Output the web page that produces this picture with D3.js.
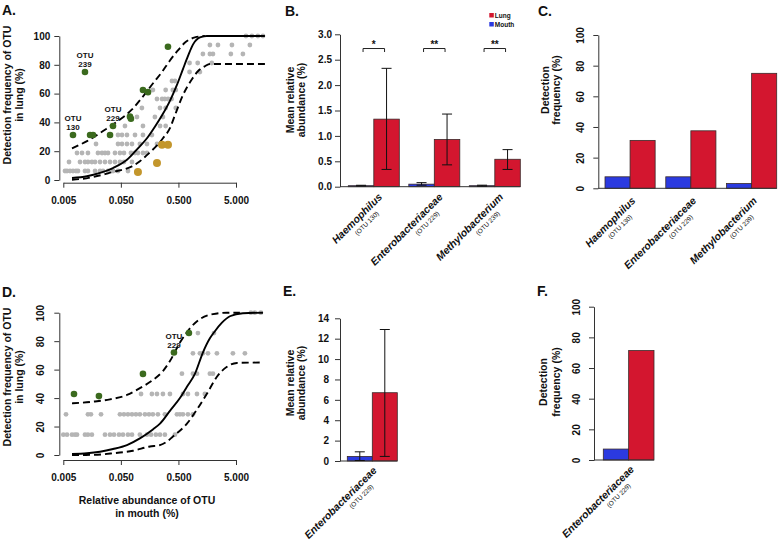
<!DOCTYPE html>
<html>
<head>
<meta charset="utf-8">
<script src="https://d3js.org/d3.v7.min.js"></script>
<style>
body { margin: 0; background: #fff; }
svg text { font-family: "Liberation Sans", Arial, sans-serif; font-weight: bold; fill: #111; }
</style>
</head>
<body>
<script>
// ---------- data ----------
var xTicks = [0.005, 0.05, 0.5, 5];
var freqTicks = [0, 20, 40, 60, 80, 100];

// panel A : grey OTUs, one row per detection level [level, abundances]
var aGreyRows = [
  [100, [7.44, 9.44, 12.0, 14.7]],
  [93.75, [1.76, 2.43, 4.25, 8.71]],
  [87.5, [1.33, 1.76, 1.99, 4.07, 6.59]],
  [81.25, [0.78, 1.08, 1.9]],
  [75, [0.78, 1.18]],
  [68.75, [0.386, 0.435]],
  [62.5, [0.180, 0.30, 0.40, 0.45]],
  [56.25, [0.212, 0.26, 0.29, 0.33, 0.38]],
  [50, [0.116, 0.239, 0.30, 0.45]],
  [43.75, [0.0952, 0.195, 0.269]],
  [37.5, [0.0589, 0.121, 0.24, 0.30]],
  [31.25, [0.0446, 0.0523, 0.0638, 0.088, 0.121, 0.173]],
  [25, [0.0185, 0.0446, 0.0523, 0.0638, 0.078, 0.107, 0.142, 0.212, 0.239]],
  [18.75, [0.00865, 0.01057, 0.0134, 0.0200, 0.0235, 0.0265, 0.0299, 0.0395, 0.0482, 0.0566, 0.0748, 0.088, 0.099, 0.121, 0.142]],
  [12.5, [0.00628, 0.00975, 0.0119, 0.0134, 0.0157, 0.0178, 0.0217, 0.0265, 0.0324, 0.0395, 0.0482, 0.0566, 0.078]],
  [6.25, [0.00535, 0.0058, 0.00654, 0.00737, 0.00831, 0.009, 0.0119, 0.0134, 0.0178, 0.0217, 0.0245, 0.0299, 0.0365, 0.0446, 0.0664]]
];
var aGreenX = [0.00737, 0.0146, 0.0164, 0.0324, 0.0365, 0.0119, 0.072, 0.0748, 0.121, 0.148, 0.329];
var aGreenY = [31.25, 31.25, 31.25, 31.25, 37.5, 75, 44, 42.5, 62.5, 61, 92.5];
var aGoldX = [0.099, 0.212, 0.259, 0.329];
var aGoldY = [5.6, 11.8, 24.5, 24.5];
var aFitX = [0.00708, 0.0129, 0.0217, 0.0365, 0.0638, 0.099, 0.142, 0.195, 0.269, 0.356, 0.471, 0.599, 0.731, 0.893, 1.18, 1.56, 15.9];
var aFitY = [1.4, 2.6, 4.9, 8.3, 14, 22, 29, 37, 46, 55, 66, 77, 86, 94, 99, 100, 100];
var aUpX = [0.00708, 0.0129, 0.0245, 0.0446, 0.078, 0.121, 0.180, 0.259, 0.356, 0.490, 0.675, 0.966, 1.44];
var aUpY = [22, 27, 34, 41, 49, 58, 67, 75, 83, 90, 96, 99, 100];
var aLowX = [0.00708, 0.0110, 0.0164, 0.0245, 0.0365, 0.0544, 0.078, 0.107, 0.148, 0.212, 0.269, 0.356, 0.435, 0.599, 0.858, 1.09, 1.44, 1.76, 15.9];
var aLowY = [0.2, 0.9, 2.1, 3.7, 5.6, 7.2, 9.5, 13, 18, 24, 29, 36, 45, 59, 70, 75.5, 79, 80.6, 80.6];
var aLabels = [["130", 0.00737, 31.25], ["229", 0.0365, 37.5], ["239", 0.0119, 75]];

// panel D
var dGreyRows = [
  [100, [9.08, 10.6, 13.5]],
  [85.71, [1.09, 2.07]],
  [71.43, [0.893, 1.18, 1.33, 1.63, 2.33, 4.42, 7.14]],
  [57.14, [0.575, 0.893, 1.05, 1.76, 1.99]],
  [42.86, [0.112, 0.173, 0.212, 0.269, 0.356, 0.599, 0.731, 1.05, 1.44]],
  [28.57, [0.00557, 0.0134, 0.0151, 0.0226, 0.0482, 0.0566, 0.0664, 0.078, 0.0914, 0.107, 0.131, 0.154, 0.180, 0.220, 0.291, 0.471, 0.531, 0.599, 0.731, 0.893]],
  [14.29, [0.005, 0.0058, 0.00708, 0.00798, 0.00865, 0.0119, 0.0134, 0.0157, 0.0265, 0.0324, 0.0380, 0.0464, 0.0544, 0.0664, 0.078, 0.107, 0.142, 0.167, 0.203, 0.239, 0.291, 0.435]]
];
var dGreenX = [0.00767, 0.0208, 0.121, 0.418, 0.761];
var dGreenY = [42.9, 41.4, 57, 72, 85.7];
var dFitX = [0.00708, 0.0129, 0.0217, 0.0365, 0.0638, 0.107, 0.180, 0.239, 0.356, 0.531, 0.703, 0.966, 1.33, 1.76, 2.15, 2.85, 3.92, 6.59, 14.7];
var dFitY = [0.7, 1.2, 2.3, 4.2, 7, 11.7, 18, 22, 31, 40, 48, 57, 72, 82, 87, 93, 97.5, 99.6, 100];
var dUpX = [0.00708, 0.0166, 0.0324, 0.0638, 0.107, 0.180, 0.269, 0.356, 0.531, 0.792, 1.18, 1.99, 3.48, 5.84];
var dUpY = [36.3, 37.5, 39.1, 42.2, 47, 52.7, 59, 66, 79, 89, 95.5, 99, 100, 100];
var dLowX = [0.00708, 0.0166, 0.0365, 0.0811, 0.160, 0.239, 0.316, 0.401, 0.703, 1.05, 1.56, 2.33, 3.48, 5.19, 14.7];
var dLowY = [0, 0.1, 1.2, 3, 6, 7, 9.4, 13, 22, 32, 43, 55, 62, 64.7, 65];
var dLabels = [["229", 0.418, 72]];

// panels B / C
var taxa = ["Haemophilus", "Enterobacteriaceae", "Methylobacterium"];
var otus = ["(OTU 130)", "(OTU 229)", "(OTU 239)"];
var bMouth = [0.02, 0.05, 0.02];
var bMouthLo = [0.015, 0.03, 0.012];
var bMouthHi = [0.028, 0.08, 0.03];
var bLung = [1.33, 0.93, 0.54];
var bLungLo = [0.34, 0.43, 0.34];
var bLungHi = [2.33, 1.43, 0.73];
var bSig = ["*", "**", "**"];
var bTicks = [0, 0.5, 1, 1.5, 2, 2.5, 3];
var cMouth = [7.5, 7.5, 3.1];
var cLung = [31.25, 37.5, 75];

// panels E / F
var eTaxa = ["Enterobacteriaceae"];
var eOtus = ["(OTU 229)"];
var eMouth = [0.45], eMouthLo = [0.05], eMouthHi = [0.9];
var eLung = [6.7], eLungLo = [0.45], eLungHi = [12.9];
var eTicks = [0, 2, 4, 6, 8, 10, 12, 14];
var fMouth = [7.14];
var fLung = [71.4];

// ---------- drawing ----------
var BLUE = '#2b3ae0', RED = '#d3162f', GREY = '#b5b5b5', GREEN = '#3b6a1e', GOLD = '#c3962c';

var svg = d3.select('body').append('svg')
    .attr('width', 778)
    .attr('height', 540);

function axisStyle(g) {
  g.select('.domain').attr('stroke', '#333');
  g.selectAll('.tick line').attr('stroke', '#333');
  g.selectAll('text').attr('fill', '#111').style('font-size', '10px').style('font-weight', 'bold');
}

function rotateTicks(g, off) {
  g.selectAll('.tick text')
    .attr('x', 0).attr('dy', 0)
    .attr('text-anchor', 'middle')
    .attr('transform', 'translate(' + (-off) + ',0) rotate(-90)');
}

function panelTitle(t, x, y) {
  svg.append('text').attr('x', x).attr('y', y).style('font-size', '14px').text(t);
}

function yTitle(lines, xs, cy) {
  lines.forEach(function(t, i) {
    svg.append('text')
      .attr('transform', 'translate(' + xs[i] + ',' + cy + ') rotate(-90)')
      .attr('text-anchor', 'middle')
      .style('font-size', '10.5px')
      .text(t);
  });
}

function scatter(o) {
  var x = d3.scaleLog().domain([0.005, 5]).range([63.3, 236]);
  var y = d3.scaleLinear().domain([0, 100]).range([o.yBottom, o.yTop]);

  var gx = svg.append('g').attr('transform', 'translate(0,' + o.axisY + ')')
    .call(d3.axisBottom(x).tickValues(xTicks).tickFormat(d3.format('.3f')).tickSize(5).tickSizeOuter(0).tickPadding(9));
  axisStyle(gx);
  var gy = svg.append('g').attr('transform', 'translate(59.3,0)')
    .call(d3.axisLeft(y).tickValues(freqTicks).tickSize(5).tickSizeOuter(0).tickPadding(4));
  axisStyle(gy);
  if (o.rotate) rotateTicks(gy, 15.7);

  var pts = [];
  o.grey.forEach(function(r) {
    r[1].forEach(function(v) { pts.push([v, r[0]]); });
  });
  svg.append('g').selectAll('circle').data(pts).join('circle')
    .attr('cx', function(d) { return x(d[0]); })
    .attr('cy', function(d) { return y(d[1]); })
    .attr('r', 2.4)
    .attr('fill', GREY);

  var line = d3.line()
    .x(function(d) { return x(d[0]); })
    .y(function(d) { return y(d[1]); })
    .curve(d3.curveMonotoneX);
  [[o.fit, null], [o.up, '7,4'], [o.low, '7,4']].forEach(function(c) {
    svg.append('path').datum(c[0])
      .attr('d', line)
      .attr('fill', 'none')
      .attr('stroke', '#000')
      .attr('stroke-width', 1.9)
      .attr('stroke-dasharray', c[1]);
  });

  svg.append('g').selectAll('circle').data(o.green).join('circle')
    .attr('cx', function(d) { return x(d[0]); })
    .attr('cy', function(d) { return y(d[1]); })
    .attr('r', 3.3)
    .attr('fill', GREEN);
  if (o.gold) {
    svg.append('g').selectAll('circle').data(o.gold).join('circle')
      .attr('cx', function(d) { return x(d[0]); })
      .attr('cy', function(d) { return y(d[1]); })
      .attr('r', 4)
      .attr('fill', GOLD);
  }

  o.labels.forEach(function(l) {
    var px = x(l[1]), py = y(l[2]);
    svg.append('text').attr('x', px).attr('y', py - 14).attr('text-anchor', 'middle').style('font-size', '8px').text('OTU');
    svg.append('text').attr('x', px).attr('y', py - 5).attr('text-anchor', 'middle').style('font-size', '8px').text(l[0]);
  });
}

function barPanel(o) {
  var y = d3.scaleLinear().domain([0, o.max]).range([o.y0, o.yTop]);
  var x0 = d3.scaleBand().domain(o.cats).range(o.range).paddingInner(o.padIn);
  var x1 = d3.scaleBand().domain(['Mouth', 'Lung']).range([0, x0.bandwidth()]);

  var gy = svg.append('g').attr('transform', 'translate(' + o.axisX + ',0)')
    .call(d3.axisLeft(y).tickValues(o.ticks).tickFormat(o.fmt).tickSize(5).tickSizeOuter(0).tickPadding(o.pad));
  axisStyle(gy);
  if (o.rotate) rotateTicks(gy, o.rotOff);

  var rows = o.cats.map(function(c, i) {
    return { cat: c, otu: o.otus[i], vals: [['Mouth', o.mouth[i]], ['Lung', o.lung[i]]], i: i };
  });

  var g = svg.append('g').selectAll('g').data(rows).join('g')
    .attr('transform', function(d) { return 'translate(' + x0(d.cat) + ',0)'; });
  g.selectAll('rect').data(function(d) { return d.vals; }).join('rect')
    .attr('x', function(d) { return x1(d[0]); })
    .attr('y', function(d) { return y(d[1]); })
    .attr('width', x1.bandwidth())
    .attr('height', function(d) { return y(0) - y(d[1]); })
    .attr('fill', function(d) { return d[0] === 'Mouth' ? BLUE : RED; })
    .attr('stroke', '#3a2a2a')
    .attr('stroke-width', 0.8);

  // baseline
  svg.append('line')
    .attr('x1', o.axisX).attr('x2', o.range[1])
    .attr('y1', y(0)).attr('y2', y(0))
    .attr('stroke', '#333');

  // error bars
  if (o.err) {
    rows.forEach(function(d, i) {
      [['Mouth', o.err.mLo[i], o.err.mHi[i]], ['Lung', o.err.lLo[i], o.err.lHi[i]]].forEach(function(e) {
        var cx = x0(d.cat) + x1(e[0]) + x1.bandwidth() / 2;
        var eg = svg.append('g').attr('stroke', '#111').attr('stroke-width', 1);
        eg.append('line').attr('x1', cx).attr('x2', cx).attr('y1', y(e[1])).attr('y2', y(e[2]));
        eg.append('line').attr('x1', cx - 5).attr('x2', cx + 5).attr('y1', y(e[1])).attr('y2', y(e[1]));
        eg.append('line').attr('x1', cx - 5).attr('x2', cx + 5).attr('y1', y(e[2])).attr('y2', y(e[2]));
      });
    });
  }

  // significance brackets
  if (o.sig) {
    rows.forEach(function(d, i) {
      var xa = x0(d.cat) + x1('Mouth') + x1.bandwidth() / 2 + 2;
      var xb = x0(d.cat) + x1('Lung') + x1.bandwidth() / 2 - 2;
      var yy = y(o.sigLevel);
      svg.append('path')
        .attr('d', 'M' + xa + ',' + (yy + 3.5) + 'V' + yy + 'H' + xb + 'V' + (yy + 3.5))
        .attr('fill', 'none').attr('stroke', '#222').attr('stroke-width', 1);
      svg.append('text').attr('x', (xa + xb) / 2).attr('y', yy - 1)
        .attr('text-anchor', 'middle').style('font-size', '10px').text(o.sig[i]);
    });
  }

  // category labels (name, with OTU id on a second line)
  rows.forEach(function(d) {
    var cx = x0(d.cat) + x0.bandwidth() / 2;
    var lg = svg.append('g')
      .attr('transform', 'translate(' + (cx + 9 + o.labDx) + ',' + (y(0) + 11 + o.labDy) + ') rotate(-45)');
    lg.append('text')
      .attr('text-anchor', 'end')
      .style('font-size', '10.5px').style('font-style', 'italic')
      .text(d.cat);
    lg.append('text')
      .attr('x', -14).attr('y', 9)
      .attr('text-anchor', 'end')
      .style('font-size', '6.5px').style('font-weight', 'normal')
      .text(d.otu);
  });
}

// A
panelTitle('A.', 2, 15);
scatter({
  yBottom: 180, yTop: 36, axisY: 182.7, rotate: false,
  grey: aGreyRows,
  green: d3.zip(aGreenX, aGreenY), gold: d3.zip(aGoldX, aGoldY),
  fit: d3.zip(aFitX, aFitY), up: d3.zip(aUpX, aUpY), low: d3.zip(aLowX, aLowY),
  labels: aLabels
});
yTitle(['Detection frequency of OTU', 'in lung (%)'], [10.5, 22.7], 95);

// D
panelTitle('D.', 2, 297);
scatter({
  yBottom: 455, yTop: 312.7, axisY: 460, rotate: true,
  grey: dGreyRows,
  green: d3.zip(dGreenX, dGreenY), gold: null,
  fit: d3.zip(dFitX, dFitY), up: d3.zip(dUpX, dUpY), low: d3.zip(dLowX, dLowY),
  labels: dLabels
});
yTitle(['Detection frequency of OTU', 'in lung (%)'], [10.5, 22.7], 377);
svg.append('text').attr('x', 147).attr('y', 504).attr('text-anchor', 'middle').style('font-size', '10.5px').text('Relative abundance of OTU');
svg.append('text').attr('x', 147).attr('y', 517).attr('text-anchor', 'middle').style('font-size', '10.5px').text('in mouth (%)');

// B
panelTitle('B.', 285, 16);
barPanel({
  axisX: 340, y0: 186.7, yTop: 34.3, max: 3, ticks: bTicks, fmt: d3.format('.1f'), pad: 3,
  cats: taxa, otus: otus, mouth: bMouth, lung: bLung,
  range: [348.3, 520.3], padIn: 0.157, labDx: 0, labDy: 0,
  err: { mLo: bMouthLo, mHi: bMouthHi, lLo: bLungLo, lHi: bLungHi },
  sig: bSig, sigLevel: 2.72
});
yTitle(['Mean relative', 'abundance (%)'], [293.5, 305], 100);
svg.append('rect').attr('x', 489.3).attr('y', 13).attr('width', 4.5).attr('height', 4.5).attr('fill', RED);
svg.append('rect').attr('x', 489.3).attr('y', 22).attr('width', 4.5).attr('height', 4.5).attr('fill', BLUE);
svg.append('text').attr('x', 494.8).attr('y', 17.8).style('font-size', '6.5px').text('Lung');
svg.append('text').attr('x', 494.8).attr('y', 26.8).style('font-size', '6.5px').text('Mouth');

// C
panelTitle('C.', 538, 16);
barPanel({
  axisX: 598.3, y0: 188.3, yTop: 35, max: 100, ticks: freqTicks, fmt: d3.format('d'), pad: 3,
  rotate: true, rotOff: 14.7,
  cats: taxa, otus: otus, mouth: cMouth, lung: cLung,
  range: [605, 776.7], padIn: 0.175, labDx: -3, labDy: 2
});
yTitle(['Detection', 'frequency (%)'], [548.5, 560], 90);

// E
panelTitle('E.', 283, 296);
barPanel({
  axisX: 340, y0: 461, yTop: 318.3, max: 14, ticks: eTicks, fmt: d3.format('d'), pad: 6,
  cats: eTaxa, otus: eOtus, mouth: eMouth, lung: eLung,
  range: [347.3, 397.3], padIn: 0, labDx: -4, labDy: -1,
  err: { mLo: eMouthLo, mHi: eMouthHi, lLo: eLungLo, lHi: eLungHi }
});
yTitle(['Mean relative', 'abundance (%)'], [293.5, 305], 383);

// F
panelTitle('F.', 537, 296);
barPanel({
  axisX: 594, y0: 460, yTop: 306.7, max: 100, ticks: freqTicks, fmt: d3.format('d'), pad: 3,
  rotate: true, rotOff: 13.7,
  cats: eTaxa, otus: eOtus, mouth: fMouth, lung: fLung,
  range: [603.3, 654], padIn: 0, labDx: -3, labDy: -1
});
yTitle(['Detection', 'frequency (%)'], [547, 559.5], 382);
</script>
</body>
</html>
